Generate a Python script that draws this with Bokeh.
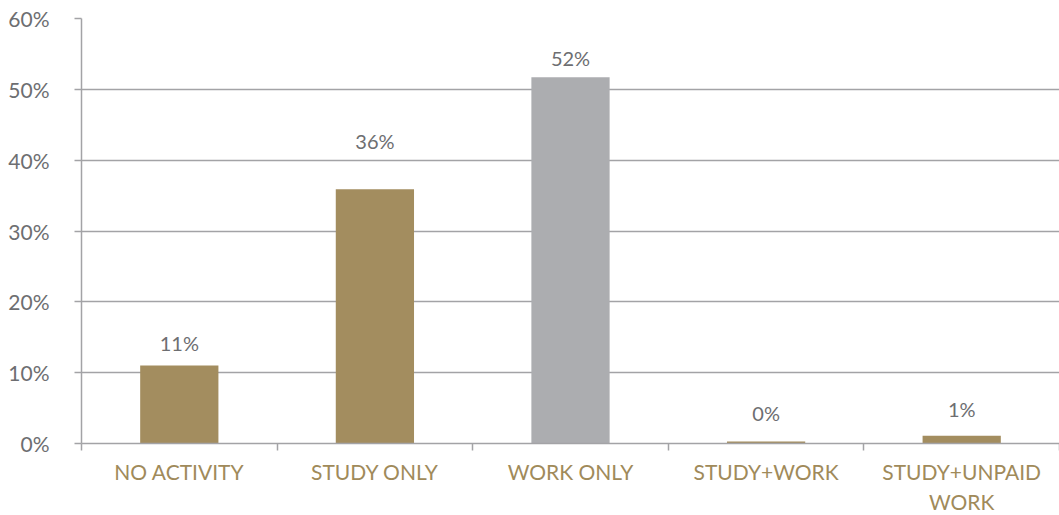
from bokeh.plotting import figure
from bokeh.models import ColumnDataSource, FixedTicker, Range1d
from bokeh.core.properties import value
from bokeh.embed import file_html
from bokeh.resources import INLINE

categories = ["NO ACTIVITY", "STUDY ONLY", "WORK ONLY", "STUDY+WORK", "STUDY+UNPAID WORK"]
display_names = ["NO ACTIVITY", "STUDY ONLY", "WORK ONLY", "STUDY+WORK", "STUDY+UNPAID\nWORK"]
values = [11.0, 35.9, 51.7, 0.3, 1.1]
value_labels = ["11%", "36%", "52%", "0%", "1%"]
y_ticks = [0, 10, 20, 30, 40, 50, 60]
y_tick_labels = ["0%", "10%", "20%", "30%", "40%", "50%", "60%"]

# styling
colors = ["#A38D5F", "#A38D5F", "#ACADB0", "#A38D5F", "#A38D5F"]
label_offsets_px = [-11, -36, -7, -16, -15]
FONT = "Lato"
GRID = "#A3A3A6"
TEXT_GREY = "#6D6E71"
GOLD_TEXT = "#A08A5A"

n = len(categories)
xs = [i + 0.5 for i in range(n)]
src = ColumnDataSource(dict(x=xs, top=values, color=colors, label=value_labels,
                            off=label_offsets_px))

p = figure(frame_width=978, frame_height=425, output_backend="svg", toolbar_location=None,
           x_range=Range1d(0, n), y_range=Range1d(0, 60),
           min_border_left=81, min_border_right=0, min_border_top=18, min_border_bottom=10)
p.outline_line_color = None
p.background_fill_color = "white"

p.vbar(x="x", top="top", width=0.4, bottom=0, color="color", source=src, line_color=None)
p.text(x="x", y="top", text="label", source=src, text_align="center", text_baseline="bottom",
       y_offset="off", text_font=value(FONT), text_font_size="20px", text_color=TEXT_GREY)

# y axis
p.yaxis.ticker = FixedTicker(ticks=y_ticks, minor_ticks=[])
p.yaxis.major_label_overrides = {t: l for t, l in zip(y_ticks, y_tick_labels)}
p.yaxis.axis_line_color = GRID
p.yaxis.axis_line_width = 1.5
p.yaxis.major_tick_line_color = GRID
p.yaxis.major_tick_line_width = 1.5
p.yaxis.major_tick_out = 7
p.yaxis.major_tick_in = 0
p.yaxis.minor_tick_line_color = None
p.yaxis.major_label_text_font = FONT
p.yaxis.major_label_text_font_size = "21px"
p.yaxis.major_label_text_color = TEXT_GREY
p.yaxis.major_label_standoff = 25

# x axis: labels at centres, ticks at category boundaries
p.xaxis.ticker = FixedTicker(ticks=xs, minor_ticks=list(range(n + 1)))
p.xaxis.major_label_overrides = {x: name for x, name in zip(xs, display_names)}
p.xaxis.axis_line_color = GRID
p.xaxis.axis_line_width = 1.5
p.xaxis.major_tick_line_color = None
p.xaxis.major_tick_out = 0
p.xaxis.major_tick_in = 0
p.xaxis.minor_tick_line_color = GRID
p.xaxis.minor_tick_line_width = 1.5
p.xaxis.minor_tick_out = 7
p.xaxis.minor_tick_in = 0
p.xaxis.major_label_text_font = FONT
p.xaxis.major_label_text_font_size = "21px"
p.xaxis.major_label_text_color = GOLD_TEXT
p.xaxis.major_label_standoff = 8

p.xgrid.grid_line_color = None
p.ygrid.ticker = FixedTicker(ticks=y_ticks)
p.ygrid.grid_line_color = GRID
p.ygrid.grid_line_width = 1.5

open("out.html", "w").write(file_html(p, INLINE))
